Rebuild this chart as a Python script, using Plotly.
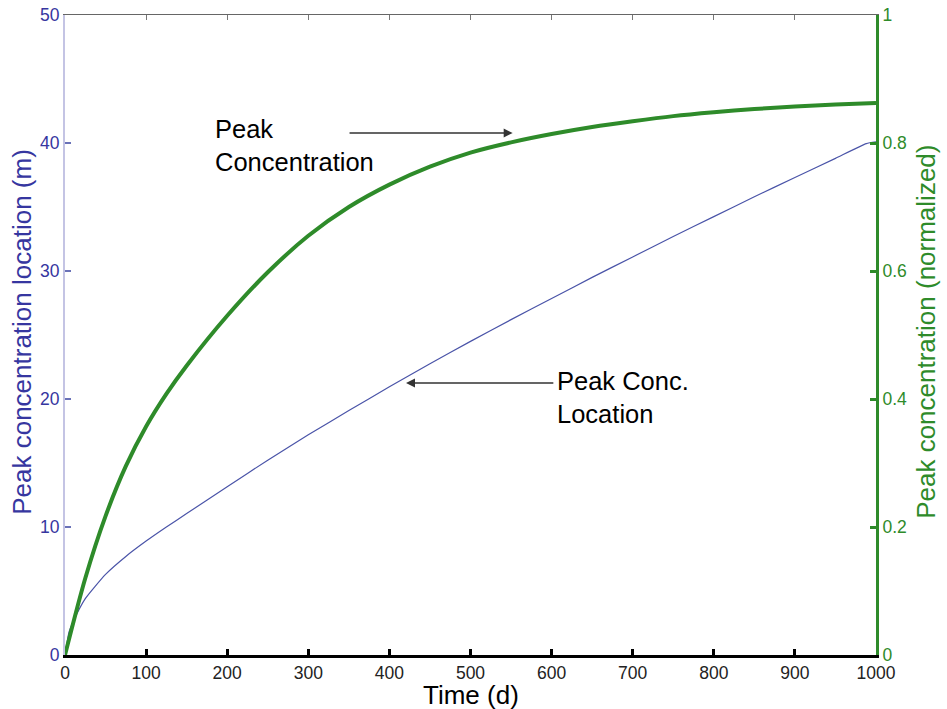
import plotly.graph_objects as go

# Time axis (days)
time_d = [0, 25, 50, 75, 100, 125, 150, 200, 250, 300, 350, 400, 450, 500,
          550, 600, 650, 700, 750, 800, 850, 900, 950, 1000]
# Peak concentration (normalized) - right axis
peak_conc = [0.0, 0.12, 0.217, 0.295, 0.357, 0.408, 0.452, 0.530, 0.598, 0.655,
             0.700, 0.735, 0.763, 0.785, 0.801, 0.814, 0.825, 0.834, 0.842,
             0.848, 0.853, 0.857, 0.860, 0.8625]

# Peak concentration location (m) - left axis
time_loc = [0, 5, 10, 25, 50, 75, 100, 125, 150, 200, 250, 300, 350, 400, 450,
            500, 550, 600, 650, 700, 750, 800, 850, 900, 950, 988, 1000]
peak_loc = [0.0, 1.8, 2.6, 4.4, 6.3, 7.7, 8.9, 10.0, 11.05, 13.15, 15.22, 17.2,
            19.1, 20.95, 22.75, 24.5, 26.2, 27.85, 29.5, 31.1, 32.7, 34.25, 35.8,
            37.3, 38.8, 39.95, 40.1]

x_ticks = [0, 100, 200, 300, 400, 500, 600, 700, 800, 900, 1000]
left_ticks = [0, 10, 20, 30, 40, 50]
right_ticks = [0, 0.2, 0.4, 0.6, 0.8, 1]

GREEN = "#2e8b2a"
BLUE = "#4a54a8"
BLUE_TXT = "#3636a0"
FONT = "Liberation Sans, Arial, Helvetica, sans-serif"
TITLE_SIZE = 26

fig = go.Figure()
fig.add_trace(go.Scatter(x=time_loc, y=peak_loc, mode="lines",
                         line=dict(color=BLUE, width=1.2, shape="spline", smoothing=0.5),
                         showlegend=False, xaxis="x", yaxis="y"))
fig.add_trace(go.Scatter(x=time_d, y=peak_conc, mode="lines",
                         line=dict(color=GREEN, width=4, shape="spline", smoothing=0.8),
                         showlegend=False, xaxis="x", yaxis="y2"))
# dummy trace so the top (mirror) axis is drawn
fig.add_trace(go.Scatter(x=[None], y=[None], mode="lines", showlegend=False,
                         xaxis="x2", yaxis="y", hoverinfo="skip"))

fig.update_layout(
    width=947, height=709,
    margin=dict(l=65, r=71, t=15, b=54),
    paper_bgcolor="white", plot_bgcolor="white",
    font=dict(family=FONT, size=17.5, color="black"),
    xaxis=dict(range=[0, 1000], tickvals=x_ticks, ticks="inside", ticklen=6,
               tickwidth=3, tickcolor="black", showline=True, linecolor="black",
               linewidth=3, showgrid=False, zeroline=False, automargin=False,
               tickfont=dict(size=17.5, color="#222222")),
    xaxis2=dict(range=[0, 1000], overlaying="x", side="top", tickvals=x_ticks,
                ticks="inside", ticklen=5, tickwidth=1, tickcolor="#777777",
                showline=True, linecolor="#666666", linewidth=1, automargin=False,
                showticklabels=False, showgrid=False, zeroline=False),
    yaxis=dict(range=[0, 50], tickvals=left_ticks, ticks="inside", ticklen=6,
               tickwidth=1.5, tickcolor="#6a72b8", showline=True,
               linecolor="#c4c4e4", linewidth=2, showgrid=False, zeroline=False,
               automargin=False,
               tickfont=dict(size=17.5, color=BLUE_TXT)),
    yaxis2=dict(range=[0, 1], tickvals=right_ticks, overlaying="y", side="right",
                ticks="inside", ticklen=6, tickwidth=3, tickcolor=GREEN,
                showline=True, linecolor=GREEN, linewidth=3, showgrid=False,
                zeroline=False, automargin=False,
                tickfont=dict(size=17.5, color=GREEN)),
)

# axis titles (as annotations for exact placement)
fig.add_annotation(x=0.5, y=-0.062, xref="paper", yref="paper", text="Time (d)",
                   showarrow=False, xanchor="center", yanchor="middle",
                   font=dict(size=TITLE_SIZE, color="black", family=FONT))
fig.add_annotation(x=-0.053, y=0.505, xref="paper", yref="paper",
                   text="Peak concentration location (m)", textangle=-90,
                   showarrow=False, xanchor="center", yanchor="middle",
                   font=dict(size=TITLE_SIZE, color=BLUE_TXT, family=FONT))
fig.add_annotation(x=1.0617, y=0.505, xref="paper", yref="paper",
                   text="Peak concentration (normalized)", textangle=-90,
                   showarrow=False, xanchor="center", yanchor="middle",
                   font=dict(size=TITLE_SIZE, color=GREEN, family=FONT))

# arrows
fig.add_annotation(x=552, y=40.78, ax=349, ay=40.78, xref="x", yref="y",
                   axref="x", ayref="y", text="", showarrow=True,
                   arrowhead=2, arrowsize=1.2, arrowwidth=1.5, arrowcolor="#333333")
fig.add_annotation(x=420.5, y=21.25, ax=604, ay=21.25, xref="x", yref="y",
                   axref="x", ayref="y", text="", showarrow=True,
                   arrowhead=2, arrowsize=1.2, arrowwidth=1.5, arrowcolor="#333333")
# labels
fig.add_annotation(x=182.5, y=39.8, xref="x", yref="y", text="Peak<br>Concentration",
                   showarrow=False, xanchor="left", yanchor="middle", align="left",
                   font=dict(size=25.5, color="black", family=FONT))
fig.add_annotation(x=604, y=20.1, xref="x", yref="y", text="Peak Conc.<br>Location",
                   showarrow=False, xanchor="left", yanchor="middle", align="left",
                   font=dict(size=25.5, color="black", family=FONT))

fig.write_html("out.html")
